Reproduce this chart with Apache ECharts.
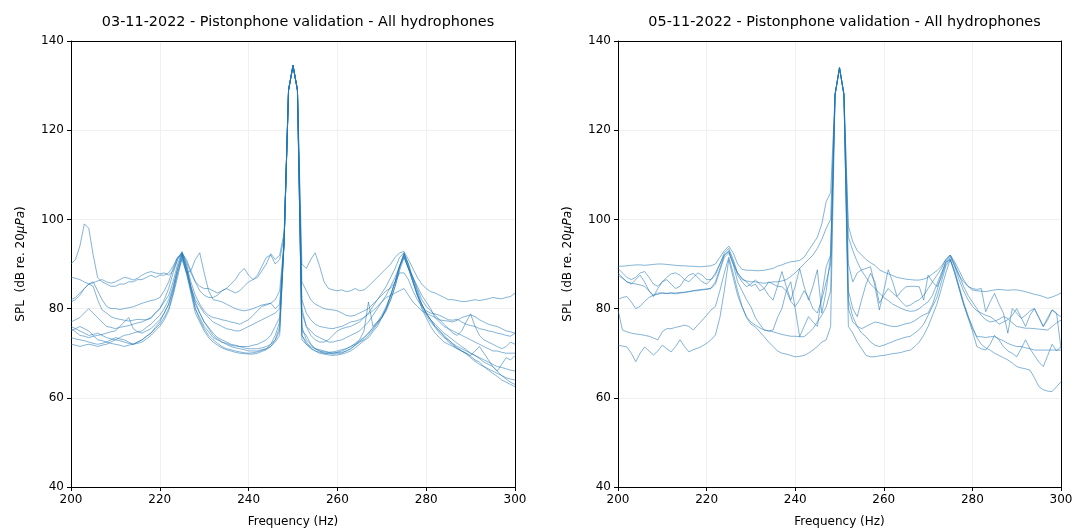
<!DOCTYPE html>
<html><head><meta charset="utf-8">
<script src="https://cdn.jsdelivr.net/npm/echarts@6/dist/echarts.min.js"></script>
<style>html,body{margin:0;padding:0;background:#fff}#c{width:1076px;height:531px}</style>
</head><body><div id="c"></div>
<script>
// Frequency bins (Hz)
const freq = [200,201,202,203,204,205,206,207,208,209,210,211,212,213,214,215,216,217,218,219,
220,221,222,223,224,225,226,227,228,229,230,231,232,233,234,235,236,237,238,239,
240,241,242,243,244,245,246,247,248,249,250,251,252,253,254,255,256,257,258,259,
260,261,262,263,264,265,266,267,268,269,270,271,272,273,274,275,276,277,278,279,
280,281,282,283,284,285,286,287,288,289,290,291,292,293,294,295,296,297,298,299,300];

const titles = ['03-11-2022 - Pistonphone validation - All hydrophones',
                '05-11-2022 - Pistonphone validation - All hydrophones'];
const xLabel = 'Frequency (Hz)';
const yLabel = 'SPL  (dB re. 20{i|μPa})';

// ---- 03-11-2022, SPL per hydrophone (dB) ----
const a1 = [90,91,94,99,98,92,87,86,85.5,85,
85,85.5,85.5,86,86,86.5,86.5,87,87.5,87,
87.5,87.5,88,89.5,91.5,92.5,90.5,88,86,85,
84.5,84.5,84,83.5,84,84.5,85.5,86.5,88,89,
87.5,86.5,87.5,89.5,91.5,92,90,91,96,129,
134.5,129,90,89,91,92.5,89.5,86,84.5,84.2,
84,84.2,83.8,84,84.5,84,84.2,85,86,87,
88,89,90,91.5,92.5,92.8,91,89,87,85.5,
84.5,83.8,83.5,83,82.5,82,82,81.8,81.6,81.6,
81.8,82,81.8,82,82.2,82.5,82.3,82.2,82.5,82.7,
83.5];
const a2 = [87,86.8,86.5,86,85.5,85.8,86.2,86.5,86,85.7,
86,86.5,87,86.8,86.4,86.8,87.5,88,88.3,88,
87.8,88,87.5,88.5,91,92.5,91,88.5,86,84,
83,82.5,82.5,83,84,84.5,84,83.5,84,85,
86,86.5,87,88.5,90,92.3,91,92,97,129,
134.5,129,86,84,82,81,80.5,80,79.8,79.7,
79.5,79,78.5,78.3,78.5,79,79.5,80,81,82,
83,84,84.6,86,88,88,86.5,84,82,80.5,
79.5,79,78.8,78.5,78,77.5,77.4,77.6,77,76.5,
76.2,76,75.5,75.3,75,74.8,74.5,74.3,74,73.8,
74.5];
const a3 = [82,82.5,83.5,84.5,85.5,86,84,82,80.5,80,
80,79.8,80,80.2,80.4,80.8,81.2,81.5,81.8,82,
82.5,84,86,89,91.5,92,88,88.5,91,92.5,
88,84,82,81.8,81.5,81,80.5,80,79.7,79.5,
79.7,80,80.4,80.8,81,81.2,82,84,95,129,
134.5,129,82,79,77.5,76.5,76,75.8,75.6,75.5,
75.8,76,76.5,77,77.2,77.5,78,78.8,79.5,80.5,
81.5,82.5,83,83.5,84,84.5,83,81.5,80.5,79.5,
79,78.5,78,77.5,77.3,77.2,77,77.4,78,78.3,
78.6,78.2,77.5,77,76.5,76.2,76,75.5,75,74.8,
74.5];
const a4 = [81.5,82,83,84.5,85.5,85,82,79.7,79,78.2,
77.8,77.6,77.4,77.2,77.4,77.6,77.5,77.5,77.8,79,
80,82,84.5,88,91,92.8,90,86,83,81,
79.5,78.5,78,77.8,77.5,77.3,77,76.8,76.5,77,
77.5,78.5,79.5,80.5,80.8,81.2,80,81,95,129,
134.5,129,80,76,74,73,72.5,72.5,73,74,
75,75.5,75.8,76,76.5,77,78,79,80.5,82,
83.5,85,87,89,91.5,92.5,90,87,84.5,82,
80.5,79.5,78.5,77.5,76.5,75.5,74.5,74,75,77,
78.8,76,74,73,72.5,72,71.5,71,71.5,72.5,
72];
const a5 = [77,77.5,78,79,80,79,78,77,76,75.8,
75.5,75.8,76,76.2,76.5,76.8,77,77.5,78,79,
80,81.5,83,86,90,92.5,89,85,82,80.5,
79,78,77,76.5,76,75.5,75.3,75,75,75.5,
76,76.5,77,77.5,78,78.5,79,80,95,129,
134.5,129,79,76,75,74,73.5,73,72.5,72.5,
72.8,73,73.5,74,74.5,75,76,77,78.5,80,
81.5,83,85,87,89.5,92,89,87,85,83,
81.5,80,78,77,76,75.5,75,74.5,74,73.5,
73,72.5,72,71.5,71,70.5,70.5,70.2,70,70,
70];
const a6 = [76,75.5,75,74.5,74,74.2,74.5,74,73.5,73.2,
73,73.5,74,74.2,74.5,74.8,75,75.8,76.5,77.5,
78.5,80,82,85,89,92,88.5,84.5,81,79,
77,75.8,74.5,73.5,73,72.5,72,71.8,71.5,71.2,
71,71,71,71.2,71.5,72,73,75,95,129,
134.5,129,75,74,72,71,70.5,70.3,70.2,70.3,
70.5,70.8,71,71.5,72,72.8,73.5,74.5,75.5,76.8,
78,80,82,85,89,92.3,90,86,83,81,
79,77.5,76.5,75.5,74.5,73.8,73,72.2,71.5,70.8,
70,69.5,69,68.5,68,67.5,67,66.8,66.5,66.2,
66];
const a7 = [75.5,74.8,74,73.8,73.5,73.8,74,74.2,74.5,74.8,
75,76,77,78,75.5,74.8,74.5,75,75.5,76.5,
77.5,79,81,84,88,91,88,84,80,78,
76,74.8,73.5,73,72.5,72,71.5,71.2,71,70.8,
70.5,70.5,70.5,70.8,71,71.5,72.5,74,95,129,
134.5,129,74,72,71,70.5,70.2,70,70,70,
70.2,70.5,71,71.5,72.2,73,75,81.5,76,77,
78,80,83,86,89.5,91.5,89,86,83,81,
79,77.5,76,75,74,73,72,71.2,70.5,69.8,
69,68.2,67.5,67,66.5,66,65.5,65,64.5,64.2,
64];
const a8 = [75,75.5,76,75.5,75,74,73,72.8,72.5,73,
73.5,73.2,73,72.5,72,72.5,73,73.8,74.5,75.8,
77,79,81,84.5,89,92.5,89.5,85,81.5,79,
77,75.5,74,73.2,72.5,72.2,71.8,71.6,71.5,71.5,
71.5,71.8,72,72.5,73,74,76,78,95,129,
134.5,129,76,73,72,71,70.5,70,69.9,69.8,
69.9,70,70.5,71,71.8,72.5,73.5,74.5,75.8,77,
78.5,80.5,83,86,89.5,92,89,87,84,81,
79,77.5,76,75,73.8,72.5,71.8,71,70.5,70,
69.3,68.5,68,67,66.2,65.5,64.8,64,63.5,63,
62.5];
const a9 = [73.5,73.2,73,72.8,72.5,72.2,72,72.2,72.5,72.2,
72,71.8,71.5,71.8,72,72.5,73,73.8,74.5,75.5,
76.5,78,80,83.5,88,92,89,84.5,80,77.5,
75.5,74,73,72.2,71.5,71,70.8,70.5,70.3,70.1,
70,70.1,70.3,70.6,71,72,74,77,95,129,
134.5,129,74,72.5,71.2,70.5,70,69.8,69.6,69.5,
69.6,69.8,70.1,70.5,71.2,72,72.8,73.5,74.8,76,
78,80,83,86,89.5,92.5,89.5,86.5,83.5,80.5,
78.5,77,75.8,74.5,73.5,73,72.2,71.5,71,70.5,
70,69.5,68.8,68,67.5,67,66,65,64.2,63.5,
63];
const a10 = [72,71.8,71.5,71.8,72,71.8,71.5,71.8,72,72.5,
73,72.8,72.5,72.2,72,72.2,72.5,73.2,74,75,
76,77.5,79.5,83,87,91.5,88,83.5,79,77,
75,73.5,72.5,71.8,71.2,70.8,70.5,70.2,70,69.9,
69.8,69.8,70,70.4,70.8,71.5,73,76,95,129,
134.5,129,73,72,71.5,71,70.8,70.5,70.2,70,
70.2,70.2,70.5,71,71.8,72.5,73,74,75.2,76.5,
78,79.5,82,85,88.5,91.5,89,86,83,80,
78,76,74.5,73.5,72.5,72,71.5,71,70.5,70,
69.5,70.5,71.5,70,68.5,67,66,67.5,69,68.5,
69.5];

// ---- 05-11-2022, SPL per hydrophone (dB) ----
const b1 = [89.5,89.5,89.6,89.7,89.8,89.8,89.7,89.8,89.9,90,
90,89.9,89.8,89.7,89.6,89.6,89.5,89.5,89.4,89.4,
89.5,89.6,90,91.5,93,94,92.5,90,88.8,88.6,
88.6,88.5,88.5,88.6,88.8,89,89.5,89.8,90.2,90.5,
90.6,90.8,91.5,93,94.5,96,99,104,106,128,
134,128,98.5,95,93,92,91,90.3,89.7,88.7,
88.2,87.8,87.4,87,86.8,86.6,86.5,86.4,86.4,86.6,
87,87.8,88.5,89.5,91,92,90.5,88.5,86.5,85,
84.2,84,83.9,83.8,84,84.2,84.3,84.2,84.1,84.2,
84.2,84,83.8,83.5,83.2,83,82.7,82.3,82.6,83,
83.5];
const b2 = [89,88,87,86.5,87,88,88.3,87,85.5,85,
86,87,87.8,88,87.5,86.5,86,87,88,87.5,
86.5,86.5,87.5,90,92.5,93.5,91,88,86.5,86.2,
86,86,85.8,85.7,85.8,86,86,86.2,86.5,87.2,
88,89,90,91,92,93.5,95.5,98,100,128,
134,128,96,93,90.5,88.5,87,85.5,84.5,83.5,
82.5,81.8,81,80.5,80,79.6,79.4,79.5,80,80.8,
81.5,83,85.5,88,90.5,92,90,87.5,85,83,
81.5,80,78.5,77.5,77,77.2,77.6,78.2,77.8,76.8,
76,75.8,75.6,75.6,75.5,75.4,75.3,75.2,76,76.8,
77.4];
const b3 = [88,87,86,85.5,86.5,87.5,86,84,82.7,84.5,
86,86.5,85.5,84.5,85,86.5,87.5,87.9,87,86,
85.5,86.5,88,90,92,93,90.5,87.5,86,84.9,
85.5,86.4,85.5,84.5,83,81.9,85,88.3,84.9,81.9,
85,89,85,81.9,85,88.7,79,84,92,128,
134,128,90,86,88,88.7,89,89.4,85,79.7,
84,88.7,86,82.7,84,84.9,85,85,84.9,81.9,
87.5,86,84.9,87,90,91.5,89.5,87.5,86,85,
84.5,84.3,84.5,79.3,81.5,83.4,81,79,74.5,80,
79,77.8,78.5,79.5,80,78,76,78,79.7,79,
71];
const b4 = [82,82.5,82.7,81.5,80,80.5,81.6,82.5,83,83.2,
83.5,83.4,83.5,83.3,83.5,83.6,83.8,84,84,84.2,
84.3,84.5,85.5,88.5,91.5,92.5,90,86,84,82,
80.4,78,76.5,75.2,75,75.2,78,80,84,86,
80,73.7,76,78.2,77,76,83,89.4,92,128,
134,128,80,77,76,75.5,76,76.5,77,76.8,
76.5,76.2,76,76,76.3,76.6,76.8,77.3,78,78.6,
79,81,84,87.5,90.5,91,88,84.5,81,78,
75,71.5,71,70.7,72,74,73,71.5,70.5,70,
69.2,71,73,71,69.5,68,67,69.5,72,70.5,
71.5];
const b5 = [79.7,75.2,74.8,74.5,74.3,74.2,74,73.8,73.4,73,
74.8,75.5,75.5,75.8,76,76.3,76,75.2,76.3,77.4,
78.5,79.7,80.5,84,88,91.5,88,84,80.5,78.2,
77,76.3,75.7,75.2,75,74.8,74.5,74.2,74,73.8,
73.8,73.7,73.7,74.5,75.5,77,78.5,80.4,84,128,
134,128,82,78.2,76,74.5,73.7,72.5,71.8,71.5,
71.8,72.2,72.6,73,73.3,73.6,73.8,74.5,75.3,76.5,
78.5,80.5,82.5,86,89.5,91,88.5,85,81.5,78.5,
75.5,73.7,73.7,73.5,73.7,73.7,73.2,72.8,72.2,71.8,
71.5,71.5,71.2,71,70.7,70.7,70.7,70.7,70.7,70.7,
70.7];
const b6 = [71.8,71.6,71.4,70,68.1,70,71.4,70.5,69.6,70.5,
71.8,71,70.3,71.5,73,71.5,70.3,70.8,71.1,71.6,
72.2,73,74.1,78,84,91,87,83,80.4,78,
76.5,75.9,74.8,73.7,72.5,71.5,70.5,70,69.8,69.5,
69.2,69.3,69.5,70,70.7,71.5,72.5,73,76,128,
134,128,76,74.5,72.5,71,69.5,69.2,69.2,69.4,
69.5,69.7,69.9,70,70.2,70.5,70.7,71.5,72.5,74,
76,78.5,81,84.5,88,91,88,84.5,81,78.2,
76,73.5,72,71.2,70.7,70,69.5,69,68.5,67.8,
67,66.7,66.5,66.2,64.5,62.5,61.8,61.5,61.4,62.5,
63.6];
const b7 = [87.5,86.8,86,85.7,85.5,85.3,85,84,83,83.5,
83.5,83.4,83.5,83.5,83.6,83.7,83.8,84,84.2,84.3,
84.4,84.6,86,89,92,92.8,90,88,86.8,86,
85,85.5,84,84.5,86,85.5,85,84.9,84,81.6,
80.5,82,84,82.5,80,79,82,86,90,128,
134,128,84,80,78.2,82,85.5,87.9,86,81.2,
83,84.5,83.5,82.7,81.5,80.5,80.8,81.5,82,83,
84.5,86,87.5,89,91,92,89.5,86.5,84,82,
80.5,79.5,79,78.5,78.2,77.5,76.5,77,77.5,78.5,
80,78,76,78.5,80,78,76,77.5,79.7,78.8,
78.2];

const day1 = [a1,a2,a3,a4,a5,a6,a7,a8,a9,a10];
const day2 = [b1,b2,b3,b4,b5,b6,b7];

const F = 'DejaVu Sans';
const LINE = 'rgba(31,119,180,0.55)';
const grids = [
  {left:71, top:41, width:444, height:446, outerBoundsMode:'none', containLabel:false},
  {left:618, top:41, width:443, height:446, outerBoundsMode:'none', containLabel:false}
];
function xAx(i){return {type:'value',gridIndex:i,min:200,max:300,interval:20,
  name:xLabel,nameLocation:'middle',nameGap:29,
  nameTextStyle:{fontFamily:F,fontSize:12,color:'#000'},
  axisLine:{show:true,onZero:false,lineStyle:{color:'#000',width:1}},
  axisTick:{show:true,length:4,lineStyle:{color:'#000'}},
  axisLabel:{fontFamily:F,fontSize:12,color:'#000',margin:7},
  splitLine:{show:true,lineStyle:{color:'#f0f0f0',width:1}}};}
function yAx(i){return {type:'value',gridIndex:i,min:40,max:140,interval:20,
  name:yLabel,nameLocation:'middle',nameGap:44,
  nameTextStyle:{fontFamily:F,fontSize:12,color:'#000',rich:{i:{fontFamily:F,fontSize:12,fontStyle:'italic',color:'#000'}}},
  axisLine:{show:true,onZero:false,lineStyle:{color:'#000',width:1}},
  axisTick:{show:true,length:4,lineStyle:{color:'#000'}},
  axisLabel:{fontFamily:F,fontSize:12,color:'#000',margin:7},
  splitLine:{show:true,lineStyle:{color:'#f0f0f0',width:1}}};}
function frameX(i){return {type:'value',gridIndex:i,position:'top',min:200,max:300,
  axisLine:{show:true,onZero:false,lineStyle:{color:'#000',width:1}},
  axisTick:{show:false},axisLabel:{show:false},splitLine:{show:false}};}
function frameY(i){return {type:'value',gridIndex:i,position:'right',min:40,max:140,
  axisLine:{show:true,onZero:false,lineStyle:{color:'#000',width:1}},
  axisTick:{show:false},axisLabel:{show:false},splitLine:{show:false}};}

const series = [];
[day1, day2].forEach((set, gi) => {
  set.forEach((vals, k) => {
    series.push({type:'line', xAxisIndex:gi, yAxisIndex:gi, name:(gi?'b':'a')+(k+1),
      data: freq.map((f, j) => [f, vals[j]]), showSymbol:false, symbol:'none',
      lineStyle:{color:LINE, width:1}, silent:true, z:3});
  });
});

const chart = echarts.init(document.getElementById('c'), null, {renderer:'canvas'});
chart.setOption({
  animation:false,
  backgroundColor:'#fff',
  title:[
    {text:titles[0], left:293, top:10, textAlign:'center', textStyle:{fontFamily:F,fontSize:14.4,fontWeight:'normal',color:'#000'}},
    {text:titles[1], left:839.5, top:10, textAlign:'center', textStyle:{fontFamily:F,fontSize:14.4,fontWeight:'normal',color:'#000'}}
  ],
  grid:grids,
  xAxis:[xAx(0), xAx(1), frameX(0), frameX(1)],
  yAxis:[yAx(0), yAx(1), frameY(0), frameY(1)],
  series:series
});
</script></body></html>
